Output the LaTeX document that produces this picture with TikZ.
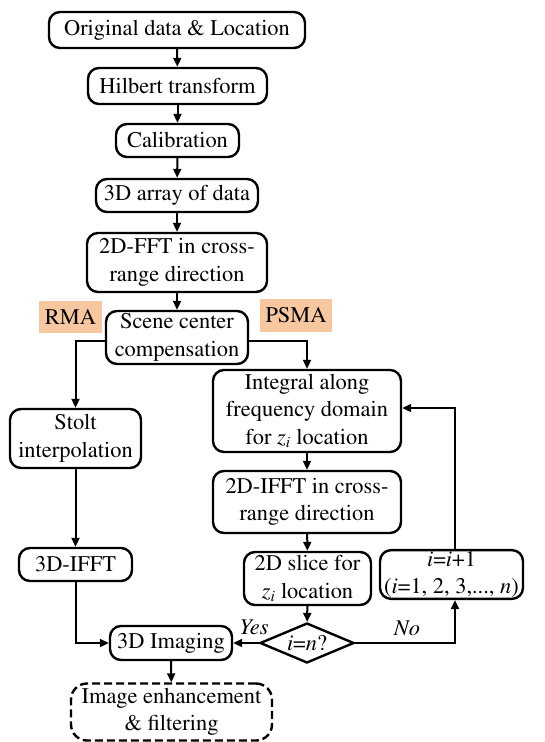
\documentclass[tikz,border=0pt]{standalone}
\usepackage[T1]{fontenc}
\renewcommand{\rmdefault}{ptm}
\usetikzlibrary{arrows.meta,shapes.geometric,calc}
\definecolor{orangelbl}{RGB}{247,199,160}
\newcommand{\zi}{\textit{z}\textsubscript{\textit{i}}}
\begin{document}
\begin{tikzpicture}[x=1pt,y=-1pt,
  box/.style={draw,line width=2.4pt,rounded corners=11pt,align=center,inner sep=1pt,
    font=\fontsize{22.4}{27.5}\selectfont},
  lbl/.style={fill=orangelbl,inner sep=1pt,font=\fontsize{22.4}{27.5}\selectfont},
  arr/.style={line width=2pt,-{Triangle[length=9pt,width=8pt]}},
  tag/.style={font=\fontsize{22.4}{27.5}\selectfont\itshape}]
\useasboundingbox (0,0) rectangle (545,742);
\node[box,minimum width=256,minimum height=36] (orig) at (177,30) {Original data \& Location};
\node[box,minimum width=179,minimum height=36] (hil) at (177.5,86) {Hilbert transform};
\node[box,minimum width=123,minimum height=33] (cal) at (177.5,140.5) {Calibration};
\node[box,minimum width=162,minimum height=33] (arr3) at (177,195.5) {3D array of data};
\node[box,minimum width=180,minimum height=59] (fft) at (177,262.5) {2D-FFT in cross-\\range direction};
\node[lbl,minimum width=63,minimum height=32] (rma) at (70.5,317) {RMA};
\node[lbl,minimum width=72,minimum height=33] (psma) at (296,315.5) {PSMA};
\node[box,minimum width=142,minimum height=53] (scene) at (177,337.5) {Scene center\\compensation};
\node[box,minimum width=188,minimum height=82] (integ) at (307,411) {Integral along\\frequency domain\\for \zi{} location};
\node[box,minimum width=131,minimum height=59] (stolt) at (75.5,438.5) {Stolt\\interpolation};
\node[box,minimum width=188,minimum height=62] (ifft2) at (307,502) {2D-IFFT in cross-\\range direction};
\node[box,minimum width=127,minimum height=53] (slice) at (307.5,578.5) {2D slice for\\\zi{} location};
\node[box,minimum width=143,minimum height=45] (inc) at (451.5,574.5) {\textit{i}=\textit{i}+1\\(\textit{i}=1, 2, 3,..., \textit{n})};
\node[box,minimum width=113,minimum height=33] (ifft3) at (75.5,564.5) {3D-IFFT};
\node[box,minimum width=122,minimum height=34] (img) at (171,643) {3D Imaging};
\node[draw,line width=2.4pt,diamond,minimum width=94,minimum height=40,inner sep=0] (dia) at (307,643) {};
\node[font=\fontsize{22.4}{27.5}\selectfont] (diatext) at (dia.center) {\textit{i}=\textit{n}?};
\node[box,dash pattern=on 8pt off 4pt,rounded corners=16pt,minimum width=201,minimum height=57] (enh) at (171.5,712) {Image enhancement\\\& filtering};
\node[tag] (yes) at (254,627) {Yes};
\node[tag] (no) at (407,628) {No};
\draw[arr] (orig) -- (hil);
\draw[arr] (hil) -- (cal);
\draw[arr] (cal) -- (arr3);
\draw[arr] (arr3) -- (fft);
\draw[arr] (fft) -- (scene);
\draw[arr] ($(scene.west)+(0,3.5)$) -| (stolt.north);
\draw[arr] ($(scene.east)+(0,3.5)$) -| (integ.north);
\draw[arr] (integ) -- (ifft2);
\draw[arr] (ifft2) -- (slice);
\draw[arr] (slice) -- (dia);
\draw[arr] (dia.west) -- (img.east);
\draw[arr] (dia.east) -| ($(inc.south)+(3.5,0)$);
\draw[arr] ($(inc.north)+(3.5,0)$) |- ($(integ.east)+(0,-3)$);
\draw[arr] (stolt) -- (ifft3);
\draw[arr] (ifft3.south) |- (img.west);
\draw[arr] (img) -- (enh);
\end{tikzpicture}
\end{document}
